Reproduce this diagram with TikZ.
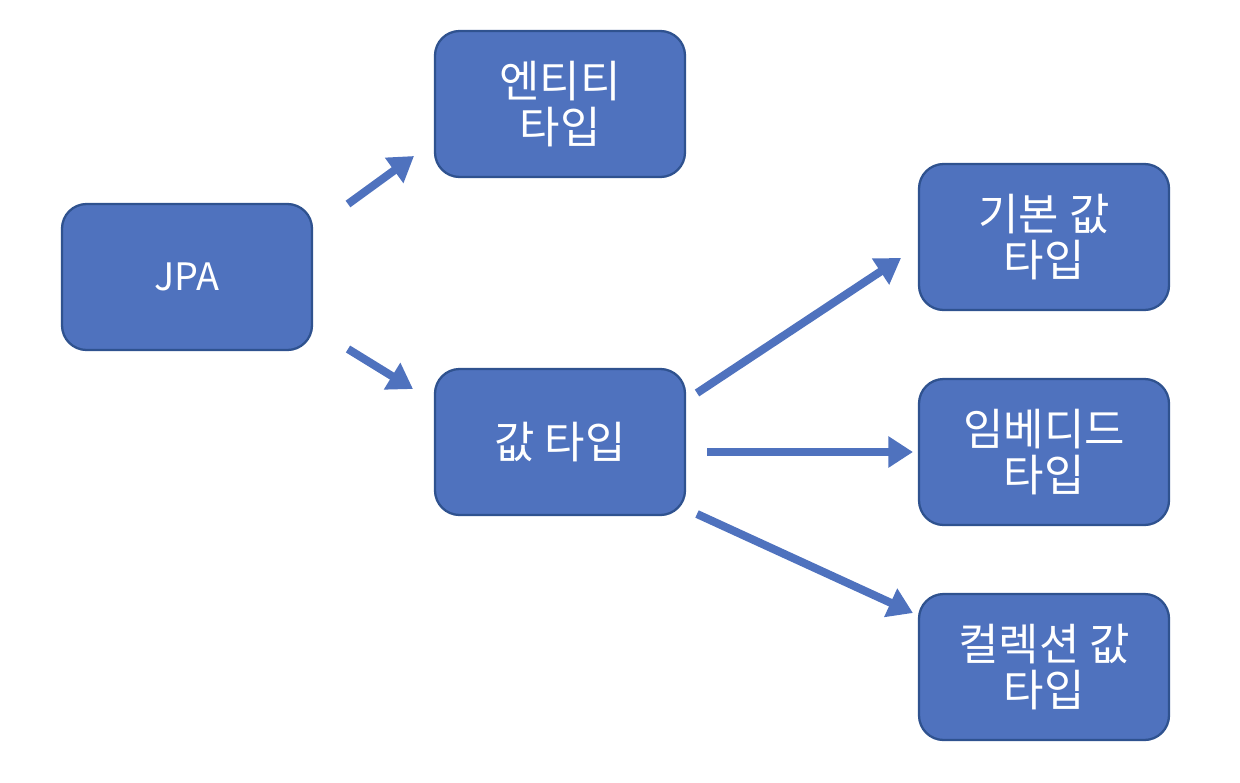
\documentclass[tikz,border=0pt]{standalone}
\usepackage{fontspec}
\setmainfont{Noto Sans CJK KR}
\usetikzlibrary{arrows.meta}
\definecolor{boxfill}{HTML}{4F72BE}
\definecolor{boxline}{HTML}{2F528F}
\tikzset{
  box/.style={draw=boxline, line width=1.3pt, fill=boxfill, rounded corners=14pt,
    minimum width=250*0.02cm, minimum height=146*0.02cm, align=center,
    text=white, font=\fontsize{25pt}{26.5pt}\selectfont, inner sep=0pt},
  arr/.style={draw=boxfill, line width=4.6pt,
    -{Triangle[width=17pt,length=14pt]}}
}
\begin{document}
\begin{tikzpicture}[x=0.02cm,y=-0.02cm]
\useasboundingbox (0,0) rectangle (1240,782);
\node[box, font=\fontsize{21.5pt}{24pt}\selectfont] (jpa) at (187,277) {JPA};
\node[box] (ent) at (560,104) {엔티티\\타입};
\node[box] (val) at (560,442) {값 타입};
\node[box] (basic) at (1044,237) {기본 값\\타입};
\node[box] (emb) at (1044,452) {임베디드\\타입};
\node[box] (col) at (1044,667) {컬렉션 값\\타입};
\coordinate (a1s) at (348,204); \coordinate (a1e) at (414,156);
\coordinate (a2s) at (348,349); \coordinate (a2e) at (413,389);
\coordinate (a3s) at (697,393); \coordinate (a3e) at (901,258);
\coordinate (a4s) at (707,452); \coordinate (a4e) at (913,452);
\coordinate (a5s) at (697,514); \coordinate (a5e) at (913,613);
\draw[arr] (a1s) -- (a1e);
\draw[arr] (a2s) -- (a2e);
\draw[arr] (a3s) -- (a3e);
\draw[arr] (a4s) -- (a4e);
\draw[arr] (a5s) -- (a5e);
\end{tikzpicture}
\end{document}
